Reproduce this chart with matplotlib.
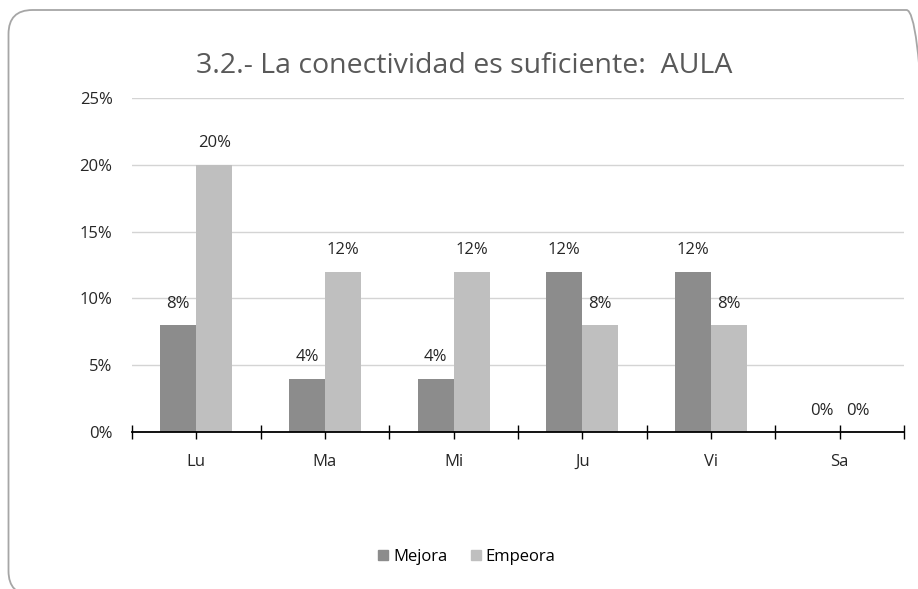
import matplotlib.pyplot as plt
import numpy as np
from matplotlib.patches import FancyBboxPatch, Patch
from matplotlib.transforms import IdentityTransform

dias = ['Lu', 'Ma', 'Mi', 'Ju', 'Vi', 'Sa']
mejora = [8, 4, 4, 12, 12, 0]
empeora = [20, 12, 12, 8, 8, 0]
yticks = [0, 5, 10, 15, 20, 25]

c_mejora = '#8c8c8c'
c_empeora = '#bfbfbf'

plt.rcParams['font.family'] = ['Open Sans', 'DejaVu Sans']

fig = plt.figure(figsize=(9.18, 5.89), dpi=100)

# rounded frame of the chart area in pixels (cut off at right and bottom like the original)
frame = FancyBboxPatch((8.5, -6), 922, 589 - 10 + 6,
                       boxstyle='round,pad=0,rounding_size=24',
                       transform=IdentityTransform(), fill=False,
                       edgecolor='#a6a6a6', linewidth=1.3)
fig.patches.append(frame)

ax = fig.add_axes([132 / 918, 1 - 432 / 589, (904 - 132) / 918, (432 - 98) / 589])

x = np.arange(len(dias))
w = 0.28
b1 = ax.bar(x - w / 2, mejora, w, color=c_mejora, label='Mejora', zorder=3)
b2 = ax.bar(x + w / 2, empeora, w, color=c_empeora, label='Empeora', zorder=3)

for bars, vals in ((b1, mejora), (b2, empeora)):
    for r, v in zip(bars, vals):
        ax.text(r.get_x() + r.get_width() / 2, v + 1.0, f'{v}%',
                ha='center', va='bottom', fontsize=12, color='#262626')

ax.set_xlim(-0.5, len(dias) - 0.5)
ax.set_ylim(0, 25)
ax.set_yticks(yticks)
ax.set_yticklabels([f'{t}%' for t in yticks])
ax.yaxis.grid(True, color='#d4d4d4', linewidth=1, zorder=0)
ax.tick_params(axis='y', length=0, pad=14, labelsize=12, labelcolor='#262626')

ax.set_xticks(x)
ax.set_xticklabels(dias)
ax.set_xticks(np.arange(-0.5, len(dias), 1), minor=True)
ax.tick_params(axis='x', which='both', direction='inout', length=10, width=1,
               color='black', labelsize=12, labelcolor='#262626', pad=11)

for s in ['top', 'right', 'left']:
    ax.spines[s].set_visible(False)
ax.spines['bottom'].set_color('black')
ax.spines['bottom'].set_linewidth(1.3)
ax.spines['bottom'].set_zorder(4)

fig.text(464 / 918, 1 - 66 / 589, '3.2.- La conectividad es suficiente:  AULA',
         ha='center', va='center', fontsize=20.5, color='#595959')

handles = [Patch(color=c_mejora, label='Mejora'), Patch(color=c_empeora, label='Empeora')]
fig.legend(handles=handles, loc='center', bbox_to_anchor=(467 / 918, 1 - 557 / 589),
           ncol=2, frameon=False, fontsize=12, handlelength=0.6, handleheight=0.6,
           handletextpad=0.3, columnspacing=1.4)

fig.savefig('out.png', dpi=100)
